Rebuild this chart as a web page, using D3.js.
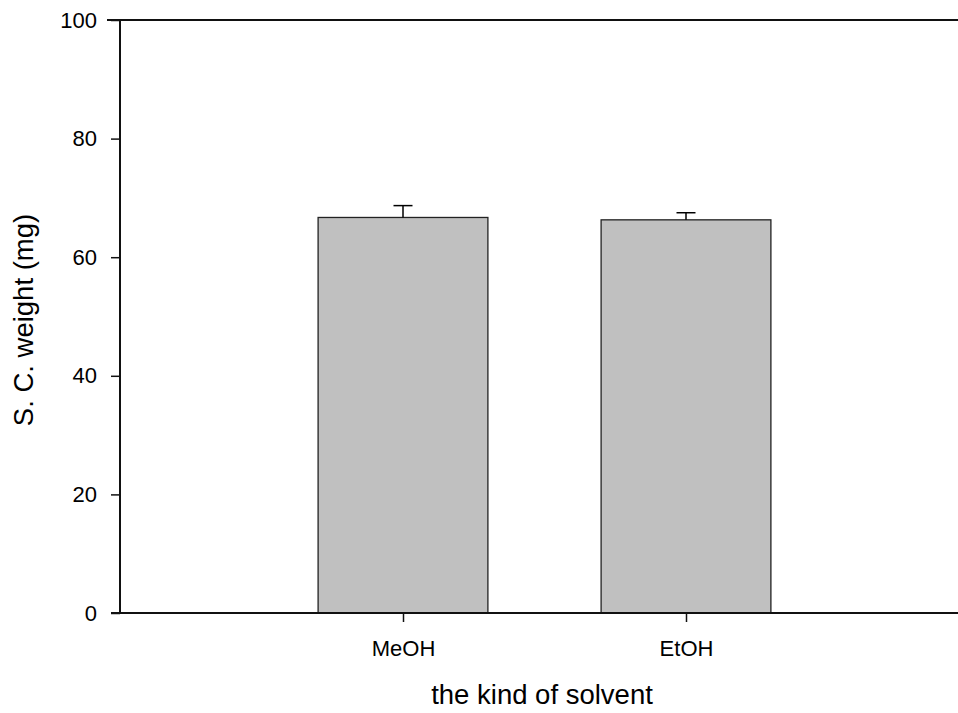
<!DOCTYPE html>
<html>
<head>
<meta charset="utf-8">
<script src="https://cdn.jsdelivr.net/npm/d3@7"></script>
<style>
  body { margin: 0; background: #fff; }
  text { font-family: "Liberation Sans", Arial, sans-serif; fill: #000; }
</style>
</head>
<body>
<div id="chart"></div>
<script>
var width = 958
var height = 713

var solvents = ['MeOH', 'EtOH']
var weights = [66.7, 66.3]
var errors = [2.0, 1.2]
var yTicks = [0, 20, 40, 60, 80, 100]

var svg = d3.select('#chart')
            .append('svg')
            .attr('width', width)
            .attr('height', height)

// category slots 1 and 2 on a 0..3 linear range
var x = d3.scaleLinear().domain([0, 3]).range([120, 969])
var y = d3.scaleLinear().domain([0, 100]).range([613, 20])
var barW = x(0.6) - x(0)

// bars
svg.selectAll('rect.bar')
  .data(solvents)
  .enter().append('rect')
  .attr('class', 'bar')
  .attr('x', function(d, i) { return x(i + 1) - barW / 2 })
  .attr('y', function(d, i) { return y(weights[i]) })
  .attr('width', barW)
  .attr('height', function(d, i) { return y(0) - y(weights[i]) })
  .attr('fill', '#c0c0c0')
  .attr('stroke', '#222')
  .attr('stroke-width', 1.3)

// error bars (upper only)
svg.selectAll('line.err')
  .data(solvents)
  .enter().append('line')
  .attr('class', 'err')
  .attr('x1', function(d, i) { return x(i + 1) })
  .attr('x2', function(d, i) { return x(i + 1) })
  .attr('y1', function(d, i) { return y(weights[i]) })
  .attr('y2', function(d, i) { return y(weights[i] + errors[i]) })
  .attr('stroke', '#000')
  .attr('stroke-width', 1.5)

svg.selectAll('line.cap')
  .data(solvents)
  .enter().append('line')
  .attr('class', 'cap')
  .attr('x1', function(d, i) { return x(i + 1) - 9.5 })
  .attr('x2', function(d, i) { return x(i + 1) + 9.5 })
  .attr('y1', function(d, i) { return y(weights[i] + errors[i]) })
  .attr('y2', function(d, i) { return y(weights[i] + errors[i]) })
  .attr('stroke', '#000')
  .attr('stroke-width', 1.5)

// y axis
var yAxis = d3.axisLeft(y).tickValues(yTicks).tickSize(9).tickPadding(14)
var gy = svg.append('g')
  .attr('transform', 'translate(120,0)')
  .call(yAxis)
gy.select('.domain').remove()
gy.append('line')
  .attr('x1', 0).attr('x2', 0)
  .attr('y1', y(100)).attr('y2', y(0))
  .attr('stroke', '#111').attr('stroke-width', 2)
gy.selectAll('.tick line').attr('stroke', '#111').attr('stroke-width', 1.5)
gy.selectAll('.tick text')
  .style('font-size', '22px')
  .style('font-family', '"Liberation Sans", Arial, sans-serif')
  .attr('fill', '#000')

// x axis
var xAxis = d3.axisBottom(x).tickValues([1, 2])
  .tickFormat(function(d) { return solvents[d - 1] })
  .tickSize(9).tickPadding(18)
var gx = svg.append('g')
  .attr('transform', 'translate(0,' + y(0) + ')')
  .call(xAxis)
gx.select('.domain').remove()
gx.append('line')
  .attr('x1', 111).attr('x2', 958)
  .attr('y1', 0).attr('y2', 0)
  .attr('stroke', '#111').attr('stroke-width', 2)
gx.selectAll('.tick line').attr('stroke', '#111').attr('stroke-width', 1.5)
gx.selectAll('.tick text')
  .style('font-size', '22px')
  .style('font-family', '"Liberation Sans", Arial, sans-serif')
  .attr('fill', '#000')

// top frame line
svg.append('line')
  .attr('x1', 107).attr('x2', 958)
  .attr('y1', y(100)).attr('y2', y(100))
  .attr('stroke', '#111').attr('stroke-width', 2)

// titles
svg.append('text')
  .attr('x', 542)
  .attr('y', 704)
  .attr('text-anchor', 'middle')
  .style('font-size', '27.5px')
  .text('the kind of solvent')

svg.append('text')
  .attr('transform', 'translate(33,320) rotate(-90)')
  .attr('text-anchor', 'middle')
  .style('font-size', '27.5px')
  .text('S. C. weight (mg)')
</script>
</body>
</html>
